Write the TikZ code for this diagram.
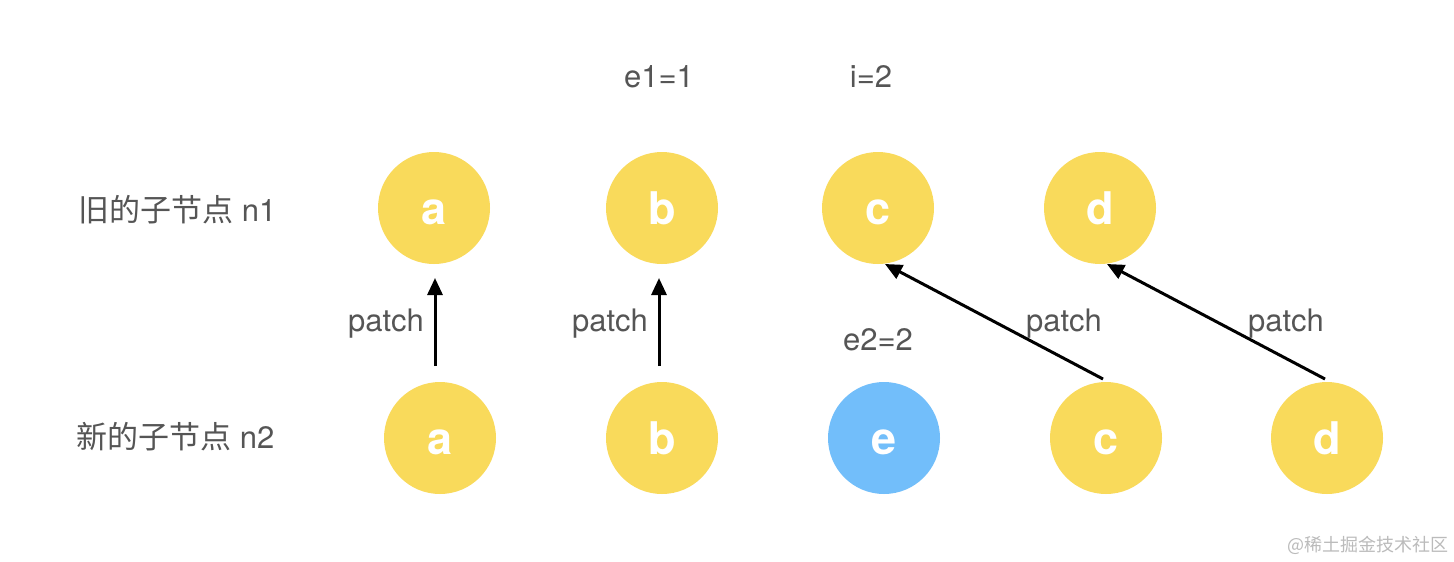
\documentclass[tikz,border=0pt]{standalone}
\usepackage{fontspec}
\setmainfont{TeX Gyre Heros}
\newfontfamily\cjk{Noto Sans CJK SC}
\usetikzlibrary{arrows.meta}
\definecolor{ylw}{HTML}{F9DA5B}
\definecolor{blu}{HTML}{72BEFA}
\definecolor{txt}{HTML}{555555}
\definecolor{wm}{HTML}{BBBBBB}
\tikzset{
  circ/.style={circle, minimum size=112pt, inner sep=0pt, fill=ylw, text=white, text height=33pt, text depth=0pt, font=\fontsize{45}{45}\selectfont\bfseries},
  bcirc/.style={circ, fill=blu},
  lbl/.style={text=txt, font=\fontsize{31}{31}\selectfont, inner sep=0pt},
  rowlbl/.style={text=txt, font=\fontsize{31}{31}\selectfont, inner sep=0pt, anchor=west},
  arr/.style={line width=3pt, -{Triangle[length=17pt,width=15pt]}}
}
\begin{document}
\begin{tikzpicture}[x=1pt,y=-1pt]
\useasboundingbox[fill=white] (0,0) rectangle (1454,562);
% top row
\node[circ] (ta) at (434,208) {a};
\node[circ] (tb) at (662,208) {b};
\node[circ] (tc) at (878,208) {c};
\node[circ] (td) at (1100,208) {d};
% bottom row
\node[circ] (ba) at (440,438) {a};
\node[circ] (bb) at (662,438) {b};
\node[bcirc] (be) at (884,438) {e};
\node[circ] (bc) at (1106,438) {c};
\node[circ] (bd) at (1327,438) {d};
% labels
\node[rowlbl] (l1) at (78,210) {{\cjk 旧的子节点} n1};
\node[rowlbl] (l2) at (76,437) {{\cjk 新的子节点} n2};
\node[lbl] (e1) at (659,77) {e1=1};
\node[lbl] (i2) at (871,77) {i=2};
\node[lbl] (e2) at (878,340) {e2=2};
\node[lbl] (p1) at (386,324) {patch};
\node[lbl] (p2) at (610,324) {patch};
\node[lbl] (p3) at (1064,324) {patch};
\node[lbl] (p4) at (1286,324) {patch};
\node[text=wm, font=\cjk\fontsize{18}{18}\selectfont, anchor=east, inner sep=0pt] (wmk) at (1449,545) {@稀土掘金技术社区};
% arrow endpoints
\coordinate (s1) at (435,366);
\coordinate (t1) at (435,278);
\coordinate (s2) at (659,366);
\coordinate (t2) at (659,278);
\coordinate (s3) at (1103,379);
\coordinate (t3) at (885,264);
\coordinate (s4) at (1325,379);
\coordinate (t4) at (1107,264);
\draw[arr] (s1) -- (t1);
\draw[arr] (s2) -- (t2);
\draw[arr] (s3) -- (t3);
\draw[arr] (s4) -- (t4);
\end{tikzpicture}
\end{document}
